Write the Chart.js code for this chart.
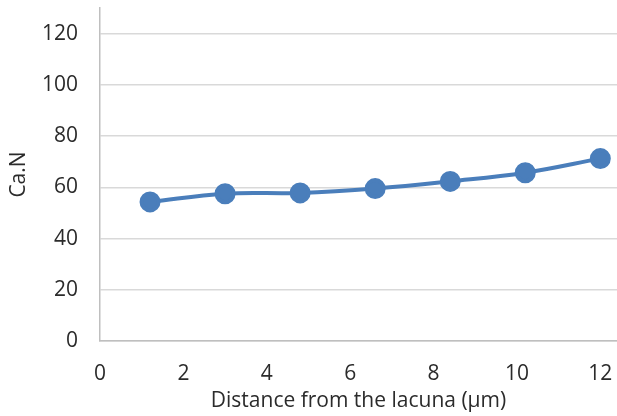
<!DOCTYPE html>
<html>
<head>
<meta charset="utf-8">
<script src="https://cdn.jsdelivr.net/npm/chart.js@4"></script>
<style>
  html, body { margin: 0; padding: 0; background: #fff; }
  #wrap { width: 617px; height: 416px; position: relative; }
</style>
</head>
<body>
<div id="wrap"><canvas id="chart"></canvas></div>
<script>
// values
const distances = [1.2, 3.0, 4.8, 6.6, 8.4, 10.2, 12.0];
const caN = [54.3, 57.5, 57.8, 59.5, 62.3, 65.7, 71.2];
const xTicks = [0, 2, 4, 6, 8, 10, 12];
const yTicks = [0, 20, 40, 60, 80, 100, 120];

const BLUE = '#4a7ebb';
const TEXT = '#2b2b2b';
const FONT = { family: '"Open Sans", sans-serif', size: 21 };

new Chart(document.getElementById('chart'), {
  type: 'scatter',
  data: {
    datasets: [{
      data: distances.map((d, i) => ({ x: d, y: caN[i] })),
      showLine: true,
      borderColor: BLUE,
      backgroundColor: BLUE,
      borderWidth: 4,
      tension: 0.4,
      pointRadius: 8.5,
      pointHoverRadius: 8.5,
      clip: false,
    }],
  },
  options: {
    responsive: true,
    maintainAspectRatio: false,
    animation: false,
    layout: { autoPadding: false, padding: { top: 8, right: 0, left: 0, bottom: 0 } },
    plugins: { legend: { display: false }, tooltip: { enabled: false } },
    scales: {
      x: {
        type: 'linear',
        min: 0,
        max: 12.4,
        afterBuildTicks: (s) => { s.ticks = xTicks.map(v => ({ value: v })); },
        afterFit: (s) => { s.height = 75; s.paddingLeft = 0; s.paddingRight = 0; },
        grid: { display: false },
        border: { color: '#bfbfbf', width: 1.5 },
        ticks: { color: TEXT, font: FONT, padding: 12, maxRotation: 0 },
        title: {
          display: true,
          text: 'Distance from the lacuna (µm)',
          color: TEXT,
          font: FONT,
          padding: { top: 0, bottom: 2 },
        },
      },
      y: {
        min: 0,
        max: 130,
        afterBuildTicks: (s) => { s.ticks = yTicks.map(v => ({ value: v })); },
        afterFit: (s) => { s.width = 100; s.paddingTop = 0; s.paddingBottom = 0; },
        grid: { color: '#d9d9d9', lineWidth: 1.5, drawTicks: false },
        border: { color: '#bfbfbf', width: 1.5 },
        ticks: { color: TEXT, font: FONT, padding: 22 },
        title: {
          display: true,
          text: 'Ca.N',
          color: TEXT,
          font: FONT,
          padding: { top: 6, bottom: 0 },
        },
      },
    },
  },
});
</script>
</body>
</html>
